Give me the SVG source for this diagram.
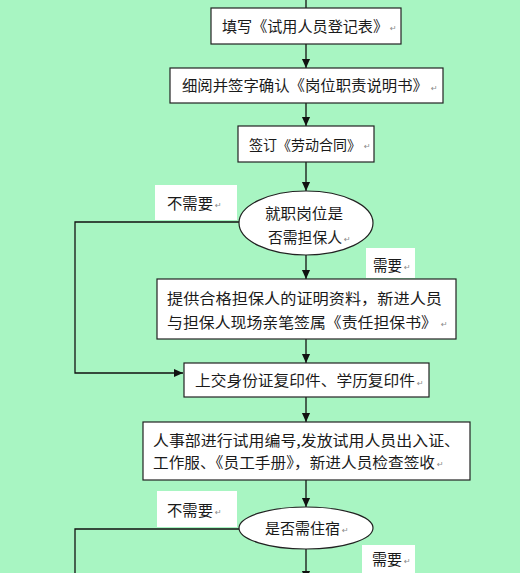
<svg xmlns="http://www.w3.org/2000/svg" width="520" height="573" viewBox="0 0 520 573">
<defs>
<style>
.bg{fill:#A8F5C2}
.box{fill:#fff;stroke:#222;stroke-width:1.2}
.lbl{fill:#fff}
.t{font-family:"Noto Sans CJK SC","Liberation Sans",sans-serif;font-size:15px;fill:#1a1a1a}
.pm{font-family:"DejaVu Sans",sans-serif;font-size:8px;fill:#888}
.ln{fill:none;stroke:#111;stroke-width:1.3}
</style>
<marker id="ah" markerUnits="userSpaceOnUse" markerWidth="9" markerHeight="10" refX="10" refY="4.5" orient="auto" viewBox="0 0 10 9">
<path d="M0,0 L10,4.5 L0,9 Z" fill="#111"/>
</marker>
</defs>
<rect class="bg" x="0" y="0" width="520" height="573"/>

<g id="connectors">
<line class="ln" x1="306" y1="0" x2="306" y2="8"/>
<line class="ln" x1="306" y1="44" x2="306" y2="68" marker-end="url(#ah)"/>
<line class="ln" x1="306" y1="103" x2="306" y2="126" marker-end="url(#ah)"/>
<line class="ln" x1="306" y1="162" x2="306" y2="191" marker-end="url(#ah)"/>
<line class="ln" x1="306" y1="255" x2="306" y2="279" marker-end="url(#ah)"/>
<polyline class="ln" points="239,222 75,222 75,373 183,373" marker-end="url(#ah)"/>
<line class="ln" x1="306" y1="339" x2="306" y2="363" marker-end="url(#ah)"/>
<line class="ln" x1="306" y1="397" x2="306" y2="422" marker-end="url(#ah)"/>
<line class="ln" x1="306" y1="480" x2="306" y2="507" marker-end="url(#ah)"/>
<polyline class="ln" points="239,529 75,529 75,580"/>
<line class="ln" x1="306" y1="549" x2="306" y2="580" marker-end="url(#ah)"/>
</g>

<g id="n1">
<rect class="box" x="211" y="8" width="190" height="36"/>
<text class="t" x="222" y="31.5" textLength="166" lengthAdjust="spacingAndGlyphs">填写《试用人员登记表》</text>
<text class="pm" x="390" y="31">↵</text>
</g>
<g id="n2">
<rect class="box" x="170" y="68" width="273" height="35"/>
<text class="t" x="182" y="91" textLength="246" lengthAdjust="spacingAndGlyphs">细阅并签字确认《岗位职责说明书》</text>
<text class="pm" x="431" y="91">↵</text>
</g>
<g id="n3">
<rect class="box" x="238" y="126" width="136" height="36"/>
<text class="t" x="249" y="149.5" style="font-size:14px" textLength="112" lengthAdjust="spacingAndGlyphs">签订《劳动合同》</text>
<text class="pm" x="364" y="149">↵</text>
</g>
<g id="n4">
<ellipse class="box" cx="306" cy="223" rx="67" ry="32"/>
<text class="t" x="265" y="218.5" textLength="78" lengthAdjust="spacingAndGlyphs">就职岗位是</text>
<text class="t" x="268" y="242.5" textLength="74" lengthAdjust="spacingAndGlyphs">否需担保人</text>
<text class="pm" x="344" y="242">↵</text>
</g>
<g id="l1">
<rect class="lbl" x="155" y="185" width="82" height="35"/>
<text class="t" x="167" y="208.5" textLength="46" lengthAdjust="spacingAndGlyphs">不需要</text>
<text class="pm" x="215" y="208">↵</text>
</g>
<g id="l2">
<rect class="lbl" x="366" y="248" width="49" height="30"/>
<text class="t" x="373" y="270.5" textLength="29" lengthAdjust="spacingAndGlyphs">需要</text>
<text class="pm" x="404" y="270">↵</text>
</g>
<g id="n5">
<rect class="box" x="157" y="279" width="299" height="60"/>
<text class="t" x="167" y="303.5" textLength="275" lengthAdjust="spacingAndGlyphs">提供合格担保人的证明资料，新进人员</text>
<text class="t" x="167" y="327.5" textLength="270" lengthAdjust="spacingAndGlyphs">与担保人现场亲笔签属《责任担保书》</text>
<text class="pm" x="441" y="327">↵</text>
</g>
<g id="n6">
<rect class="box" x="184" y="363" width="245" height="34"/>
<text class="t" x="195" y="386" textLength="220" lengthAdjust="spacingAndGlyphs">上交身份证复印件、学历复印件</text>
<text class="pm" x="417" y="386">↵</text>
</g>
<g id="n7">
<rect class="box" x="143" y="422" width="327" height="58"/>
<text class="t" x="153" y="445.5" textLength="307" lengthAdjust="spacingAndGlyphs">人事部进行试用编号,发放试用人员出入证、</text>
<text class="t" x="153" y="467.5" textLength="282" lengthAdjust="spacingAndGlyphs">工作服、《员工手册》，新进人员检查签收</text>
<text class="pm" x="437" y="467">↵</text>
</g>
<g id="n8">
<ellipse class="box" cx="306" cy="528" rx="67" ry="21"/>
<text class="t" x="265" y="533.5" textLength="75" lengthAdjust="spacingAndGlyphs">是否需住宿</text>
<text class="pm" x="342" y="533">↵</text>
</g>
<g id="l3">
<rect class="lbl" x="157" y="491" width="80" height="36"/>
<text class="t" x="167" y="515.5" textLength="46" lengthAdjust="spacingAndGlyphs">不需要</text>
<text class="pm" x="215" y="515">↵</text>
</g>
<g id="l4">
<rect class="lbl" x="362" y="545" width="53" height="28"/>
<text class="t" x="372" y="564.5" textLength="30" lengthAdjust="spacingAndGlyphs">需要</text>
<text class="pm" x="404" y="564">↵</text>
</g>
</svg>
